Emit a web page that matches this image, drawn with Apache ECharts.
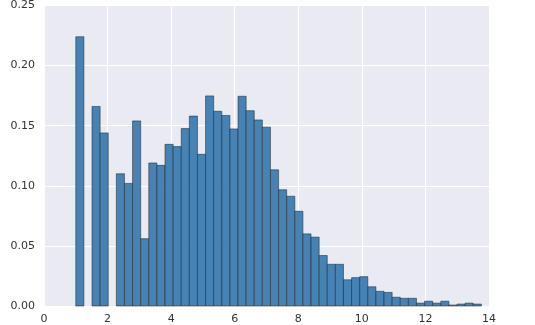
<!DOCTYPE html>
<html>
<head>
<meta charset="utf-8">
<script src="https://cdn.jsdelivr.net/npm/echarts@6/dist/echarts.min.js"></script>
<style>
html,body{margin:0;padding:0;background:#fff;}
#chart{width:535px;height:325px;}
</style>
</head>
<body>
<div id="chart"></div>
<script>
// Histogram: 50 bins starting at 1.0, width ~0.2552
var binStart = 1.0;
var binWidth = 0.2552;
var densities = [
  0.224, 0, 0.166, 0.144, 0, 0.110, 0.102, 0.154, 0.056, 0.119,
  0.117, 0.1345, 0.1326, 0.1476, 0.158, 0.1262, 0.1748, 0.162, 0.1585, 0.1473,
  0.1745, 0.1625, 0.1548, 0.1488, 0.1133, 0.0967, 0.0913, 0.0788, 0.060, 0.0573,
  0.0420, 0.0347, 0.0347, 0.0218, 0.0236, 0.0244, 0.016, 0.0122, 0.0113, 0.0073,
  0.0064, 0.0064, 0.0024, 0.004, 0.0024, 0.004, 0.0008, 0.0016, 0.0024, 0.0016
];
var xTicks = [0, 2, 4, 6, 8, 10, 12, 14];
var yTicks = [0.00, 0.05, 0.10, 0.15, 0.20, 0.25];

var data = densities.map(function (v, i) {
  var a = binStart + i * binWidth;
  return [a, a + binWidth, v];
});

var chart = echarts.init(document.getElementById('chart'), null, {renderer: 'canvas'});
chart.setOption({
  animation: false,
  backgroundColor: '#ffffff',
  grid: {left: 44, right: 46, top: 3, bottom: 15, show: true, backgroundColor: '#EAEAF2', borderWidth: 0},
  xAxis: {
    type: 'value', min: xTicks[0], max: xTicks[xTicks.length - 1], interval: 2,
    axisLine: {show: false}, axisTick: {show: false},
    axisLabel: {color: '#333333', fontSize: 11, fontFamily: 'DejaVu Sans', margin: 8,
      formatter: function (v) { return String(v); }},
    splitLine: {show: true, lineStyle: {color: '#ffffff', width: 1}}
  },
  yAxis: {
    type: 'value', min: yTicks[0], max: yTicks[yTicks.length - 1], interval: 0.05,
    axisLine: {show: false}, axisTick: {show: false},
    axisLabel: {color: '#333333', fontSize: 11, fontFamily: 'DejaVu Sans', margin: 9,
      formatter: function (v) { return v.toFixed(2); }},
    splitLine: {show: true, lineStyle: {color: '#ffffff', width: 1}}
  },
  series: [{
    type: 'custom',
    data: data,
    encode: {x: [0, 1], y: 2},
    renderItem: function (params, api) {
      var v = api.value(2);
      if (!v) return null;
      var p0 = api.coord([api.value(0), 0]);
      var p1 = api.coord([api.value(1), v]);
      return {
        type: 'rect',
        shape: {x: p0[0], y: p1[1], width: p1[0] - p0[0], height: p0[1] - p1[1]},
        style: {fill: '#4682B4', stroke: 'rgba(40,40,40,0.55)', lineWidth: 1}
      };
    }
  }]
});
</script>
</body>
</html>
